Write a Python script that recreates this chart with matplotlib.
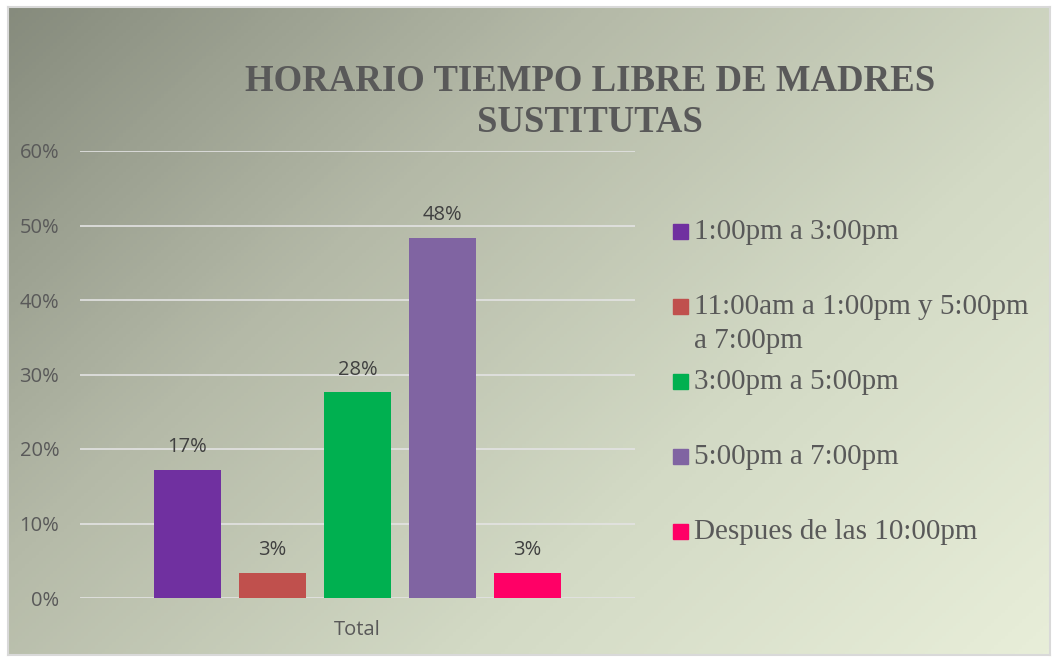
import numpy as np
import matplotlib.pyplot as plt
from matplotlib.colors import LinearSegmentedColormap
from matplotlib.patches import Rectangle

# Data
labels = ['1:00pm a 3:00pm', '11:00am a 1:00pm y 5:00pm\na 7:00pm',
          '3:00pm a 5:00pm', '5:00pm a 7:00pm', 'Despues de las 10:00pm']
values = [0.172, 0.034, 0.276, 0.483, 0.034]
colors = ['#7030a0', '#c0504d', '#00b050', '#8064a2', '#ff0066']
title = 'HORARIO TIEMPO LIBRE DE MADRES\nSUSTITUTAS'

W, H = 1058, 660
fig = plt.figure(figsize=(W / 100, H / 100), dpi=100)
fig.patch.set_facecolor('white')

# Gradient background
bg = fig.add_axes([8 / W, 5 / H, (W - 16) / W, (H - 12) / H])
gx, gy = np.meshgrid(np.linspace(0, 1, 300), np.linspace(0, 1, 200))
grad = (gx * 0.6 + gy * 0.4)
cmap = LinearSegmentedColormap.from_list('bg', ['#868b7d', '#b4b9a7', '#d3dac5', '#e8eed9'])
bg.imshow(grad, cmap=cmap, aspect='auto', extent=[0, 1, 0, 1], origin='upper')
bg.set_xticks([])
bg.set_yticks([])
for s in bg.spines.values():
    s.set_color('#d9d9d9')
    s.set_linewidth(1.5)

# Plot area
ax = fig.add_axes([80 / W, 1 - 598 / H, 555 / W, (598 - 151) / H])
ax.patch.set_alpha(0)
ax.set_xlim(-0.5, 0.5)
ax.set_ylim(0, 0.6)

width = 67 / 555
step = 85 / 555
n = len(values)
xs = (np.arange(n) - (n - 1) / 2) * step
bars = ax.bar(xs, values, width=width, color=colors, zorder=3)
for x, v in zip(xs, values):
    ax.text(x, v + 0.017, f'{v * 100:.0f}%', ha='center', va='bottom',
            fontsize=14.5, color='#404040', family='Open Sans')

ticks = np.arange(0, 0.61, 0.1)
ax.set_yticks(ticks)
ax.set_yticklabels([f'{int(round(t * 100))}%' for t in ticks])
ax.set_xticks([0])
ax.set_xticklabels(['Total'])
ax.tick_params(length=0, labelsize=14.5, colors='#595959')
ax.tick_params(axis='y', pad=15)
ax.tick_params(axis='x', pad=16)
for lab in ax.get_xticklabels() + ax.get_yticklabels():
    lab.set_family('Open Sans')
ax.grid(axis='y', color='#e3e3e3', linewidth=1.2, zorder=0)
for s in ax.spines.values():
    s.set_visible(False)

# Title
fig.text(590 / W, 1 - 102 / H, title, ha='center', va='center',
         fontsize=26.5, fontweight='bold', color='#595959',
         family='Liberation Serif', linespacing=1.25)

# Legend
ly = [232, 307, 382, 457, 532]
for y, lab, c in zip(ly, labels, colors):
    fig.patches.append(Rectangle((673 / W, 1 - (y + 7) / H), 15 / W, 15 / H,
                                 transform=fig.transFigure, color=c))
    if '\n' in lab:
        fig.text(694 / W, 1 - (y - 13) / H, lab, ha='left', va='top',
                 fontsize=21, color='#595959', family='Liberation Serif',
                 linespacing=1.4)
    else:
        fig.text(694 / W, 1 - y / H, lab, ha='left', va='center',
                 fontsize=21, color='#595959', family='Liberation Serif')

fig.savefig('out.png', dpi=100)
